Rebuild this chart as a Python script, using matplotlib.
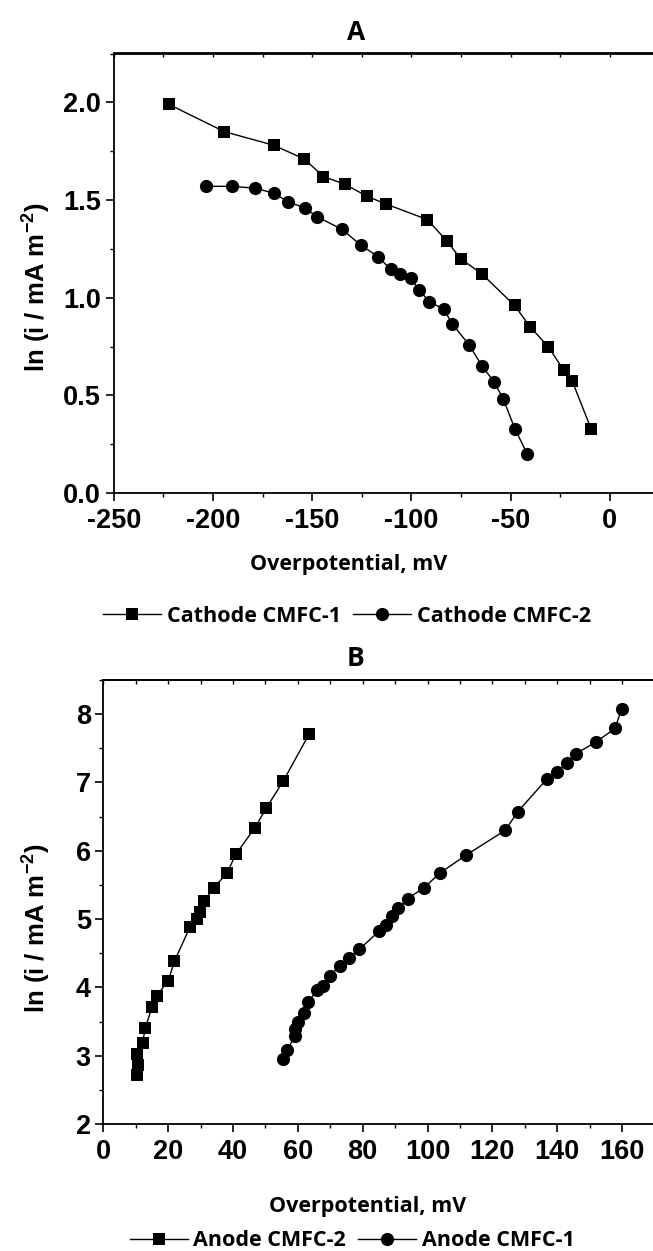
import matplotlib
matplotlib.use("Agg")
import matplotlib.pyplot as plt
from matplotlib.ticker import MultipleLocator, FormatStrFormatter

# Tafel plots: ln(i) vs overpotential
# A - cathodes, B - anodes

cath1_eta = [-222.3, -194.3, -169.3, -154.0, -144.3, -133.4, -122.5, -113.0, -92.0,
             -82.1, -75.2, -64.3, -48.0, -40.1, -31.1, -23.3, -19.0, -9.5]
cath1_lni = [1.99, 1.85, 1.78, 1.71, 1.62, 1.58, 1.52, 1.48, 1.40,
             1.29, 1.20, 1.12, 0.96, 0.85, 0.75, 0.63, 0.575, 0.33]

cath2_eta = [-203.4, -190.3, -178.6, -169.3, -162.0, -153.8, -147.7, -135.0, -125.6,
             -116.8, -110.5, -105.5, -100.4, -96.2, -91.0, -83.6, -79.4, -71.0,
             -64.4, -58.4, -53.6, -47.9, -41.6]
cath2_lni = [1.57, 1.57, 1.56, 1.535, 1.49, 1.46, 1.415, 1.35, 1.27,
             1.21, 1.145, 1.12, 1.10, 1.04, 0.98, 0.94, 0.865, 0.76,
             0.65, 0.57, 0.48, 0.33, 0.20]

anode2_eta = [10.3, 10.8, 10.3, 12.1, 13.0, 15.0, 16.5, 20.1, 21.9, 26.7,
              28.8, 29.8, 31.1, 34.1, 38.1, 40.9, 46.8, 50.2, 55.5, 63.5]
anode2_lni = [2.72, 2.87, 3.02, 3.19, 3.41, 3.71, 3.88, 4.10, 4.38, 4.88,
              5.00, 5.11, 5.27, 5.46, 5.67, 5.95, 6.34, 6.62, 7.02, 7.71]

anode1_eta = [55.3, 56.8, 59.1, 59.1, 60.2, 61.9, 63.0, 66.0, 67.9, 69.9,
              73.0, 75.9, 79.0, 85.0, 87.2, 89.1, 91.0, 93.9, 98.9, 104.0,
              112.0, 124.0, 127.8, 136.8, 139.8, 142.9, 145.7, 151.9, 157.8, 159.9]
anode1_lni = [2.95, 3.09, 3.29, 3.39, 3.49, 3.62, 3.78, 3.96, 4.02, 4.17,
              4.32, 4.43, 4.56, 4.82, 4.92, 5.04, 5.16, 5.30, 5.46, 5.68,
              5.94, 6.30, 6.57, 7.05, 7.16, 7.28, 7.42, 7.59, 7.79, 8.08]

plt.rcParams['font.family'] = ['Liberation Sans', 'DejaVu Sans']
plt.rcParams['font.weight'] = 'bold'
plt.rcParams['axes.unicode_minus'] = False
plt.rcParams['mathtext.fontset'] = 'custom'
plt.rcParams['mathtext.rm'] = 'Liberation Sans:bold'
plt.rcParams['mathtext.default'] = 'rm'

W, H = 653, 1251
fig = plt.figure(figsize=(W / 100, H / 100), dpi=100)


def box(l, t, r, b):
    return [l / W, 1 - b / H, (r - l) / W, (b - t) / H]


LBL = dict(family='Open Sans', weight='bold', size=15.5)
TICKFONT = 19.5
YLABEL = 'ln (i / mA m$^{-2}$)'


def style_axes(ax):
    for s in ax.spines.values():
        s.set_linewidth(1.3)
    ax.tick_params(which='major', direction='out', length=6, width=1.2,
                   labelsize=TICKFONT, pad=3)
    ax.tick_params(which='minor', direction='out', length=3, width=1.0)
    ax.tick_params(axis='x', which='major', pad=5)
    top = ax.secondary_xaxis('top')
    top.xaxis.set_major_locator(ax.xaxis.get_major_locator())
    top.xaxis.set_minor_locator(ax.xaxis.get_minor_locator())
    top.tick_params(which='both', direction='in', length=3, width=1.0, labeltop=False)
    top.spines['top'].set_linewidth(1.3)


line_kw = dict(color='black', linewidth=1.0, markeredgewidth=0)

# ---- panel A
axA = fig.add_axes(box(113.75, 53.5, 659.4, 493))
axA.plot(cath1_eta, cath1_lni, marker='s', markersize=8.5, label='Cathode CMFC-1', **line_kw)
axA.plot(cath2_eta, cath2_lni, marker='o', markersize=9.5, label='Cathode CMFC-2', **line_kw)
axA.set_xlim(-250, 25)
axA.set_ylim(0, 2.25)
axA.xaxis.set_major_locator(MultipleLocator(50))
axA.xaxis.set_minor_locator(MultipleLocator(25))
axA.yaxis.set_major_locator(MultipleLocator(0.5))
axA.yaxis.set_minor_locator(MultipleLocator(0.25))
axA.yaxis.set_major_formatter(FormatStrFormatter('%.1f'))
style_axes(axA)

# ---- panel B
axB = fig.add_axes(box(103.3, 680, 670.7, 1124))
axB.plot(anode2_eta, anode2_lni, marker='s', markersize=8.5, label='Anode CMFC-2', **line_kw)
axB.plot(anode1_eta, anode1_lni, marker='o', markersize=9.5, label='Anode CMFC-1', **line_kw)
axB.set_xlim(0, 175)
axB.set_ylim(2, 8.5)
axB.xaxis.set_major_locator(MultipleLocator(20))
axB.xaxis.set_minor_locator(MultipleLocator(10))
axB.yaxis.set_major_locator(MultipleLocator(1))
axB.yaxis.set_minor_locator(MultipleLocator(0.5))
style_axes(axB)

# titles, axis labels, legends placed in figure pixels
fig.text(356 / W, 1 - 39.5 / H, 'A', ha='center', va='baseline', family='Open Sans', weight='bold', size=19)
fig.text(356 / W, 1 - 666 / H, 'B', ha='center', va='baseline', family='Open Sans', weight='bold', size=19)

fig.text(349 / W, 1 - 570 / H, 'Overpotential, mV', ha='center', va='baseline', **LBL)
fig.text(368 / W, 1 - 1212 / H, 'Overpotential, mV', ha='center', va='baseline', **LBL)

fig.text(37 / W, 1 - 287 / H, YLABEL, rotation=90, ha='center', va='center', size=18.5, weight='bold')
fig.text(37 / W, 1 - 928 / H, YLABEL, rotation=90, ha='center', va='center', size=18.5, weight='bold')

leg_kw = dict(loc='center', ncol=2, frameon=False, prop=LBL, handlelength=2.7,
              handletextpad=0.27, columnspacing=0.54, borderpad=0, borderaxespad=0,
              bbox_transform=fig.transFigure)
axA.legend(bbox_to_anchor=(347 / W, 1 - 616 / H), **leg_kw)
axB.legend(bbox_to_anchor=(352 / W, 1 - 1241 / H), **leg_kw)

fig.canvas.draw()
for ax in (axA, axB):
    for lab in ax.get_xticklabels() + ax.get_yticklabels():
        lab.set_fontweight('bold')

fig.savefig('out.png', dpi=100)
